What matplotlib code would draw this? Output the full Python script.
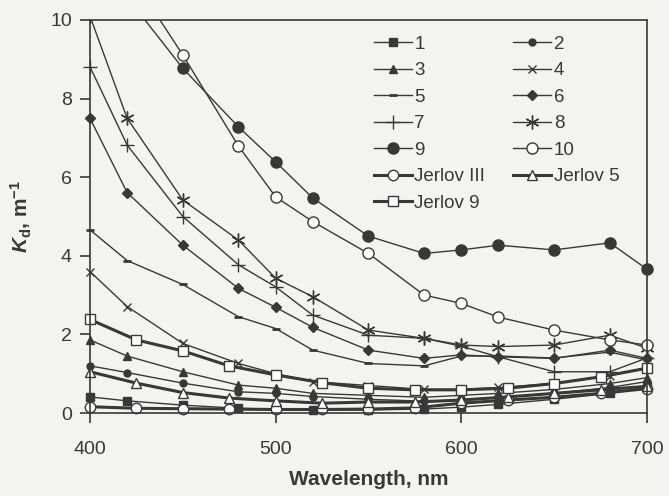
import matplotlib
matplotlib.use("Agg")
import matplotlib.pyplot as plt
from matplotlib.patches import Rectangle
import numpy as np

# Wavelength grids (nm)
wl = np.array([400, 420, 450, 480, 500, 520, 550, 580, 600, 620, 650, 680, 700])
wl_jerlov = np.array([400, 425, 450, 475, 500, 525, 550, 575, 600, 625, 650, 675, 700])

# Kd, m^-1 for stations 1-10
kd_1 = [0.41, 0.31, 0.20, 0.12, 0.10, 0.08, 0.08, 0.10, 0.15, 0.22, 0.35, 0.50, 0.65]
kd_2 = [1.20, 1.03, 0.76, 0.54, 0.50, 0.42, 0.35, 0.30, 0.33, 0.40, 0.50, 0.65, 0.80]
kd_3 = [1.86, 1.45, 1.05, 0.71, 0.63, 0.50, 0.45, 0.40, 0.45, 0.50, 0.60, 0.75, 0.90]
kd_4 = [3.60, 2.71, 1.77, 1.26, 1.00, 0.80, 0.70, 0.60, 0.60, 0.65, 0.75, 0.95, 1.15]
kd_5 = [4.66, 3.88, 3.27, 2.45, 2.15, 1.60, 1.26, 1.20, 1.45, 1.45, 1.40, 1.55, 1.35]
kd_6 = [7.50, 5.61, 4.27, 3.17, 2.69, 2.18, 1.60, 1.39, 1.48, 1.43, 1.39, 1.60, 1.39]
kd_7 = [8.81, 6.82, 5.00, 3.77, 3.21, 2.49, 1.98, 1.90, 1.70, 1.43, 1.05, 1.05, 1.40]
kd_8 = [10.1, 7.50, 5.42, 4.40, 3.43, 2.96, 2.11, 1.90, 1.73, 1.69, 1.73, 1.98, 1.65]
kd_9 = [12.0, 10.58, 8.77, 7.28, 6.39, 5.47, 4.50, 4.06, 4.15, 4.27, 4.15, 4.33, 3.66]
kd_10 = [12.8, 11.28, 9.11, 6.79, 5.50, 4.87, 4.06, 3.00, 2.79, 2.44, 2.11, 1.86, 1.73]

# Jerlov water types
kd_jerlov_3 = [0.16, 0.12, 0.11, 0.10, 0.09, 0.09, 0.10, 0.13, 0.25, 0.33, 0.40, 0.50, 0.62]
kd_jerlov_5 = [1.05, 0.76, 0.52, 0.38, 0.31, 0.25, 0.28, 0.28, 0.33, 0.41, 0.50, 0.59, 0.68]
kd_jerlov_9 = [2.38, 1.86, 1.58, 1.20, 0.97, 0.77, 0.63, 0.59, 0.59, 0.63, 0.75, 0.92, 1.14]

ink = "#383838"
bg = "#f3f3f1"

plt.rcParams["font.family"] = ["Liberation Sans", "DejaVu Sans"]
plt.rcParams["mathtext.fontset"] = "custom"
plt.rcParams["mathtext.it"] = "Liberation Sans:italic:bold"
plt.rcParams["mathtext.rm"] = "Liberation Sans:bold"
plt.rcParams["mathtext.bf"] = "Liberation Sans:bold"

fig = plt.figure(figsize=(6.69, 4.96), dpi=100, facecolor=bg)
ax = fig.add_axes([0.1345, 0.1673, 0.8325, 0.7924], facecolor=bg)

asterisk = (6, 2, 0)
styles = [
    (wl, kd_1, "1", dict(marker="s", ms=5.5, mfc=ink)),
    (wl, kd_2, "2", dict(marker="o", ms=5, mfc=ink)),
    (wl, kd_3, "3", dict(marker="^", ms=5.5, mfc=ink)),
    (wl, kd_4, "4", dict(marker="x", ms=6, mew=1.0)),
    (wl, kd_5, "5", dict(marker="_", ms=6, mew=2.0)),
    (wl, kd_6, "6", dict(marker="D", ms=5.5, mfc=ink)),
    (wl, kd_7, "7", dict(marker="+", ms=10, mew=1.0)),
    (wl, kd_8, "8", dict(marker=asterisk, ms=10, mew=1.0)),
    (wl, kd_9, "9", dict(marker="o", ms=8, mfc=ink)),
    (wl, kd_10, "10", dict(marker="o", ms=8, mfc="white", mew=1.0)),
    (wl_jerlov, kd_jerlov_3, "Jerlov III", dict(marker="o", ms=7.5, mfc="white", lw=2.2, mew=1.0)),
    (wl_jerlov, kd_jerlov_5, "Jerlov 5", dict(marker="^", ms=7.5, mfc="white", lw=2.2, mew=1.0)),
    (wl_jerlov, kd_jerlov_9, "Jerlov 9", dict(marker="s", ms=7.5, mfc="white", lw=2.2, mew=1.0)),
]

# clip only at the top so edge markers at 400/700 stay whole
clip = Rectangle((-0.05, -0.05), 1.1, 1.05, transform=ax.transAxes,
                 fill=False, visible=False)
ax.add_patch(clip)

handles = []
for x, y, label, kw in styles:
    kw = dict(kw)
    lw = kw.pop("lw", 1.0)
    (h,) = ax.plot(x, y, color=ink, lw=lw, mec=ink, label=label, **kw)
    h.set_clip_path(clip)
    handles.append(h)

ax.set_xlim(400, 700)
ax.set_ylim(0, 10)
ax.set_xticks([400, 500, 600, 700])
ax.set_yticks([0, 2, 4, 6, 8, 10])
ax.tick_params(direction="out", length=7, width=1.2, colors=ink, labelsize=14)
ax.tick_params(axis="x", pad=13)
ax.tick_params(axis="y", pad=6)
for s in ax.spines.values():
    s.set_color(ink)
    s.set_linewidth(1.2)

ax.set_xlabel("Wavelength, nm", fontsize=15, fontweight="bold", color=ink, labelpad=9)
ax.set_ylabel(r"$K_\mathrm{d}$, m$^{\mathrm{-1}}$", fontsize=15, fontweight="bold",
              color=ink, labelpad=12)

# legend filled row by row: left column odd labels, right column even
order = [0, 2, 4, 6, 8, 10, 12, 1, 3, 5, 7, 9, 11]
leg = ax.legend([handles[i] for i in order], [handles[i].get_label() for i in order],
                ncol=2, loc="upper left", bbox_to_anchor=(0.51, 0.96), frameon=False,
                fontsize=13.5, handlelength=2.0, handletextpad=0.15, columnspacing=1.5,
                labelspacing=0.5, borderpad=0, borderaxespad=0)
for t in leg.get_texts():
    t.set_color(ink)

fig.savefig("out.png", dpi=100, facecolor=bg)
